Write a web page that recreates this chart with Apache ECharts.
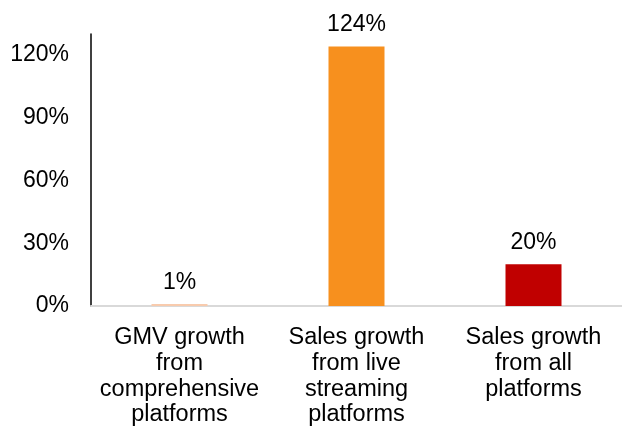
<!DOCTYPE html>
<html>
<head>
<meta charset="utf-8">
<script src="https://cdn.jsdelivr.net/npm/echarts@6/dist/echarts.min.js"></script>
<style>html,body{margin:0;padding:0;background:#fff}#c{width:622px;height:428px}</style>
</head>
<body>
<div id="c"></div>
<script>
const categories = ['GMV growth\nfrom\ncomprehensive\nplatforms', 'Sales growth\nfrom live\nstreaming\nplatforms', 'Sales growth\nfrom all\nplatforms'];
const values = [1, 124, 20];
const barColors = ['#f8cbad', '#f7901e', '#c00000'];
const yTicks = [0, 30, 60, 90, 120];

const chart = echarts.init(document.getElementById('c'));
chart.setOption({
  animation: false,
  grid: { left: 91, right: -4.5, top: 34, bottom: 122 },
  xAxis: {
    type: 'category',
    data: categories,
    axisLine: { show: true, lineStyle: { color: '#d9d9d9', width: 2 } },
    axisTick: { show: false },
    axisLabel: { interval: 0, fontFamily: 'Liberation Sans', fontSize: 23.5, color: '#000', lineHeight: 25.7, margin: 19 }
  },
  yAxis: {
    type: 'value',
    min: 0, max: 130, interval: 30,
    splitLine: { show: false },
    axisLine: { show: true, lineStyle: { color: '#000', width: 1.5 } },
    axisTick: { show: false },
    axisLabel: {
      fontFamily: 'Liberation Sans', fontSize: 23, color: '#000', margin: 22,
      formatter: v => yTicks.includes(v) ? v + '%' : ''
    }
  },
  series: [{
    type: 'bar',
    barWidth: 56,
    data: values.map((v, i) => ({ value: v, itemStyle: { color: barColors[i] } })),
    label: { show: true, position: 'top', distance: 10, formatter: p => p.value + '%', fontFamily: 'Liberation Sans', fontSize: 23, color: '#000' }
  }]
});
</script>
</body>
</html>
